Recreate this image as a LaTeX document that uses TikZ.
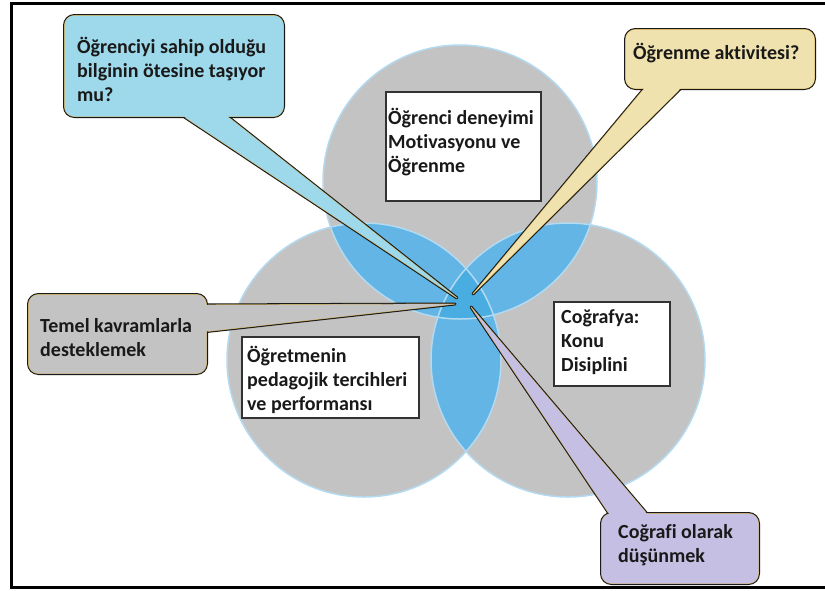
\documentclass[tikz,border=0pt]{standalone}
\usepackage{fontspec}
\setmainfont{Carlito}[Ligatures={NoCommon}]
\usetikzlibrary{calc}
\definecolor{circlegray}{HTML}{C3C3C3}
\definecolor{lensblue}{HTML}{62B5E5}
\definecolor{coreblue}{HTML}{4AADE2}
\definecolor{rimblue}{HTML}{B3DAF1}
\definecolor{askblue}{HTML}{9DD9EA}
\definecolor{askyellow}{HTML}{F0E2AE}
\definecolor{askgray}{HTML}{C3C3C3}
\definecolor{askpurple}{HTML}{C6BFE4}
\definecolor{edgegold}{HTML}{C9A243}

\begin{document}
\begin{tikzpicture}[x=1pt, y=-1pt, font=\bfseries\fontsize{20}{24}\selectfont]
            \tikzstyle{rim} = [draw=rimblue, line width=1.5pt]
            \tikzstyle{topicbox} = [draw=black!80, line width=1.5pt, fill=white, anchor=north west, inner sep=0pt]
            \tikzstyle{bubble} = [draw=black!90, line width=3pt, rounded corners=10pt, anchor=north west, inner sep=0pt, postaction={draw=edgegold, line width=0.9pt}, postaction={fill=#1}]
            \tikzstyle{tail} = [draw=black!90, line width=3pt, line join=round, postaction={draw=edgegold, line width=0.9pt, line join=round}]
            \tikzstyle{words} = [align=left, anchor=west, inner sep=0pt, text=black!90]
            \useasboundingbox (0,0) rectangle (825,590);
            \draw[line width=3pt] (11.5,3) rectangle (828,587);
            % three circles and their overlaps
            \coordinate (ctop) at (460,182);
            \coordinate (cleft) at (364,360);
            \coordinate (cright) at (568,360);
            \foreach \c in {ctop, cleft, cright}
                \fill[circlegray] (\c) circle[radius=137pt];
            \begin{scope}
                \clip (ctop) circle[radius=137pt];
                \fill[lensblue] (cleft) circle[radius=137pt];
                \fill[lensblue] (cright) circle[radius=137pt];
            \end{scope}
            \begin{scope}
                \clip (cleft) circle[radius=137pt];
                \fill[lensblue] (cright) circle[radius=137pt];
            \end{scope}
            \begin{scope}
                \clip (ctop) circle[radius=137pt];
                \clip (cleft) circle[radius=137pt];
                \fill[coreblue] (cright) circle[radius=137pt];
            \end{scope}
            \foreach \c in {ctop, cleft, cright}
                \draw[rim] (\c) circle[radius=137pt];
            % labels of the circles
            \node[topicbox, minimum width=155pt, minimum height=109pt] (studentbox) at (385,91) {};
            \node[words] (studenttext) at (388,142) {Öğrenci deneyimi\\Motivasyonu ve\\Öğrenme};
            \node[topicbox, minimum width=177pt, minimum height=81pt] (teacherbox) at (241,336) {};
            \node[words] (teachertext) at (247,380) {Öğretmenin\\pedagojik tercihleri\\ve performansı};
            \node[topicbox, minimum width=116pt, minimum height=84pt] (geobox) at (553,301) {};
            \node[words] (geotext) at (561,342) {Coğrafya:\\Konu\\Disiplini};
            % callouts
            \coordinate (tipasks) at (457,298);
            \coordinate (asksL) at (177,112);
            \coordinate (asksR) at (222,112);
            \draw[tail, fill=askblue] (asksL) -- (tipasks) -- (asksR) -- cycle;
            \node[bubble=askblue, minimum width=219pt, minimum height=101pt] (asks) at (63,14) {};
            \fill[askblue] (asksL) -- (tipasks) -- (asksR) -- cycle;
            \node[words] (askstext) at (77,69) {Öğrenciyi sahip olduğu\\bilginin ötesine taşıyor\\mu?};

            \coordinate (tipactivity) at (473,294);
            \coordinate (activityL) at (648,84);
            \coordinate (activityR) at (685,84);
            \draw[tail, fill=askyellow] (activityL) -- (tipactivity) -- (activityR) -- cycle;
            \node[bubble=askyellow, minimum width=189pt, minimum height=59pt] (activity) at (624,28) {};
            \fill[askyellow] (activityL) -- (tipactivity) -- (activityR) -- cycle;
            \node[words] (activitytext) at (633,53) {Öğrenme aktivitesi?};

            \coordinate (tipsupport) at (455,304);
            \coordinate (supportT) at (202,305);
            \coordinate (supportB) at (202,332);
            \draw[tail, fill=askgray] (supportT) -- (tipsupport) -- (supportB) -- cycle;
            \node[bubble=askgray, minimum width=178pt, minimum height=79pt] (support) at (27,293) {};
            \fill[askgray] (supportT) -- (tipsupport) -- (supportB) -- cycle;
            \node[words] (supporttext) at (40,338) {Temel kavramlarla\\desteklemek};

            \coordinate (tipthinking) at (471,307);
            \coordinate (thinkingL) at (610,515);
            \coordinate (thinkingR) at (648,515);
            \draw[tail, fill=askpurple] (thinkingL) -- (tipthinking) -- (thinkingR) -- cycle;
            \node[bubble=askpurple, minimum width=157pt, minimum height=70pt] (thinking) at (600,512) {};
            \fill[askpurple] (thinkingL) -- (tipthinking) -- (thinkingR) -- cycle;
            \node[words] (thinkingtext) at (618,545) {Coğrafi olarak\\düşünmek};
        \end{tikzpicture}
\end{document}
